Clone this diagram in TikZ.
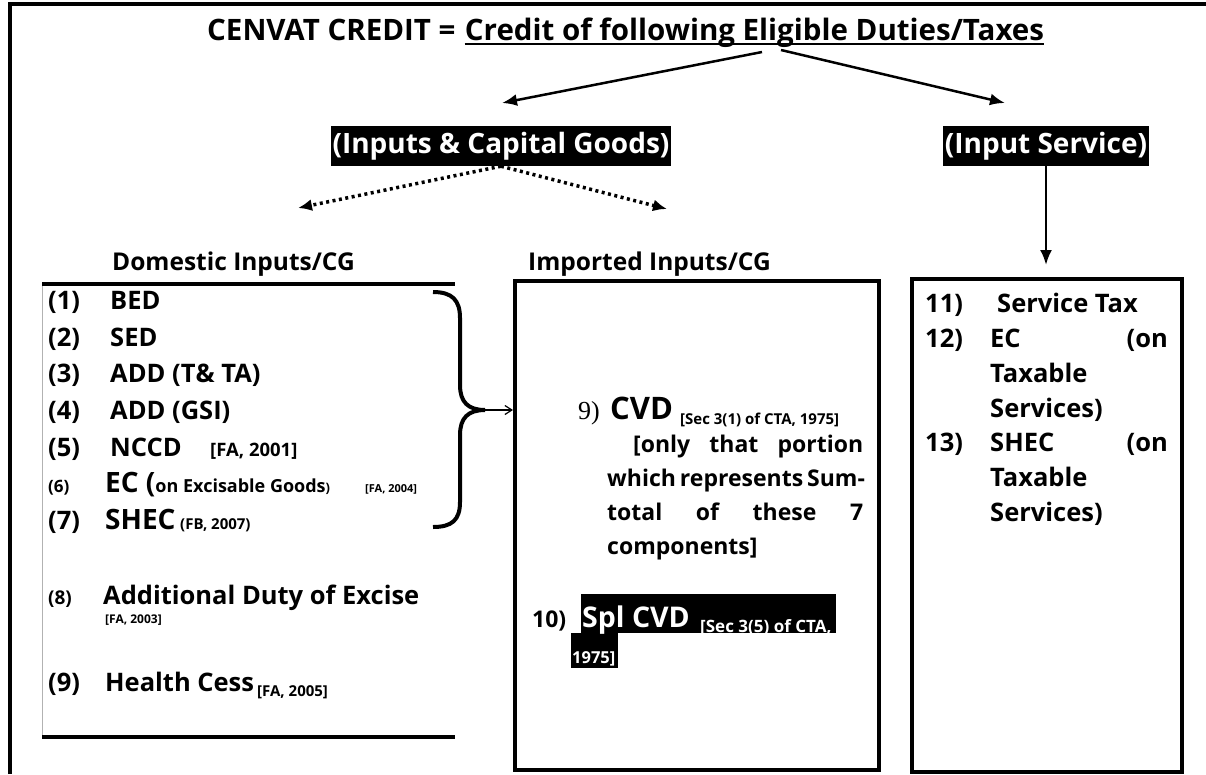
\documentclass[tikz,border=0pt]{standalone}
\usepackage{fontspec}
\setmainfont{Open Sans}
\newfontfamily\timesf{Liberation Serif}
\usetikzlibrary{arrows.meta}
\newcommand{\fsz}[1]{\fontsize{#1}{#1}\selectfont}

\tikzset{
  hilite/.style={fill=black, text=white, inner xsep=2pt, inner ysep=0pt, minimum height=40pt, font=\bfseries\fsz{28}},
  panel/.style={draw=black, line width=4pt, inner sep=0pt},
  item/.style={anchor=base west, inner sep=0pt, font=\bfseries\fsz{25.5}},
  para/.style={anchor=base west, inner sep=0pt, font=\bfseries\fsz{23}},
  note/.style={anchor=base west, inner sep=0pt, font=\bfseries\fsz{15}},
  head/.style={anchor=base west, inner sep=0pt, font=\bfseries\fsz{24.5}},
  flow/.style={line width=2.5pt, -{Latex[length=15pt,width=12pt]}},
  dotflow/.style={line width=3.5pt, dash pattern=on 3pt off 3.5pt, -{Latex[length=14pt,width=12pt]}},
}

\begin{document}
\begin{tikzpicture}[x=1pt,y=-1pt]
\useasboundingbox (0,0) rectangle (1206,774);
% frame
\draw[line width=4.5pt] (10,774) -- (10,4) -- (1210,4);

% title and first split
\node[anchor=base west, inner sep=0pt, font=\bfseries\fsz{29.5}] (title) at (207,40) {CENVAT CREDIT =};
\node[anchor=base west, inner sep=0pt, font=\bfseries\fsz{29.5}, xshift=9pt] (credit) at (title.base east) {Credit of following Eligible Duties/Taxes};
\draw[line width=2.4pt] ([yshift=-4pt]credit.base west) -- ([yshift=-4pt]credit.base east);
\coordinate (lstart) at (762,52);
\coordinate (rstart) at (781,50);
\coordinate (ltip) at (502,103);
\coordinate (rtip) at (1005,103);
\draw[flow] (lstart) -- (ltip);
\draw[flow] (rstart) -- (rtip);

\node[hilite] (icg) at (501,146) {(Inputs \& Capital Goods)};
\node[hilite] (isv) at (1046,146) {(Input Service)};

% dotted split
\coordinate (dtip) at (298,208);
\coordinate (itip) at (667,209);
\draw[dotflow] (icg.south) -- (dtip);
\draw[dotflow] (icg.south) -- (itip);

\node[head] (dhead) at (112,270) {Domestic Inputs/CG};
\node[head] (ihead) at (528,270) {Imported Inputs/CG};

% boxes
\node[panel, minimum width=364pt, minimum height=489pt] (mbox) at (697,525.5) {};
\node[panel, minimum width=270pt, minimum height=493pt] (rbox) at (1047,525.5) {};
\draw[flow, shorten >=12pt] (isv.south) -- (isv.south |- rbox.north);

% domestic list
\draw[line width=4pt] (42,284) -- (455,284);
\draw[line width=4pt] (42,737) -- (455,737);
\draw[black!30, line width=1pt] (42,286) -- (42,735);
\node[item] (n1) at (48,309) {(1)};  \node[item] (t1) at (110,309) {BED};
\node[item] (n2) at (48,346) {(2)};  \node[item] (t2) at (110,346) {SED};
\node[item] (n3) at (48,382) {(3)};  \node[item] (t3) at (110,382) {ADD (T\& TA)};
\node[item] (n4) at (48,419) {(4)};  \node[item] (t4) at (110,419) {ADD (GSI)};
\node[item] (n5) at (48,456) {(5)};  \node[item] (t5) at (110,456) {NCCD};
\node[note, font=\bfseries\fsz{18.5}] (f5) at (210,456) {[FA, 2001]};
\node[note, font=\bfseries\fsz{17}] (n6) at (48,492) {(6)};
\node[item, font=\bfseries\fsz{28}] (t6) at (105,492) {EC (\fsz{18}on Excisable Goods\fsz{13})};
\node[note, font=\bfseries\fsz{11}] (f6) at (365,492) {[FA, 2004]};
\node[item] (n7) at (48,529) {(7)};
\node[item, font=\bfseries\fsz{28}] (t7) at (105,529) {SHEC};
\node[note] (f7) at (180,529) {(FB, 2007)};
\node[note, font=\bfseries\fsz{19}] (n8) at (48,604) {(8)};
\node[item] (t8) at (103,604) {Additional Duty of Excise};
\node[note, font=\bfseries\fsz{12}] (f8) at (105,623) {[FA, 2003]};
\node[item] (n9) at (48,691) {(9)};
\node[item] (t9) at (105,691) {Health Cess};
\node[note] (f9) at (257,696) {[FA, 2005]};

% brace into imported box
\draw[line width=4pt] (433,292) .. controls (452,292) and (460,300) .. (460,318) -- (460,385)
  .. controls (460,402) and (468,410) .. (485,410)
  .. controls (468,410) and (460,418) .. (460,435) -- (460,502)
  .. controls (460,520) and (452,527) .. (433,527);
\coordinate (btip) at (485,410);
\draw[line width=1.2pt, -{Straight Barb[length=7pt,width=9pt]}] (btip) -- (btip -| mbox.west);

% imported list
\node[para, font=\timesf\fsz{26}] (n9i) at (578,419) {9)};
\node[para, font=\bfseries\fsz{31}] (cvd) at (610,419) {CVD};
\node[note] (fcvd) at (680,424) {[Sec 3(1) of CTA, 1975]};
\node[para] (p1) at (633,452) {\makebox[230pt][s]{[only that portion}};
\node[para] (p2) at (607,486) {\makebox[256pt][s]{which represents Sum-}};
\node[para] (p3) at (607,520) {\makebox[256pt][s]{total of these 7}};
\node[para] (p4) at (607,554) {components]};
\node[para] (n10) at (532,627) {10)};
\node[fill=black, inner sep=0pt, minimum width=255pt, minimum height=39pt] (hl1) at (708.5,613.5) {};
\node[fill=black, inner sep=0pt, minimum width=47pt, minimum height=35pt] (hl2) at (594.5,650.5) {};
\node[para, text=white, font=\bfseries\fsz{28.5}] (spl) at (582,627) {Spl CVD};
\node[note, text=white, font=\bfseries\fsz{17}] (fspl) at (700,632) {[Sec 3(5) of CTA,};
\node[note, text=white, font=\bfseries\fsz{16.5}] (fspl2) at (572,663) {1975]};

% input service list
\node[item] (n11) at (925,312) {11)};  \node[item] (t11) at (997,312) {Service Tax};
\node[item] (n12) at (925,347) {12)};  \node[item] (t12) at (990,347) {EC};
\node[item, anchor=base east] (o12) at (1168,347) {(on};
\node[item] (t12b) at (990,382) {Taxable};
\node[item] (t12c) at (990,417) {Services)};
\node[item] (n13) at (925,451) {13)};  \node[item] (t13) at (990,451) {SHEC};
\node[item, anchor=base east] (o13) at (1168,451) {(on};
\node[item] (t13b) at (990,486) {Taxable};
\node[item] (t13c) at (990,521) {Services)};
\end{tikzpicture}
\end{document}
